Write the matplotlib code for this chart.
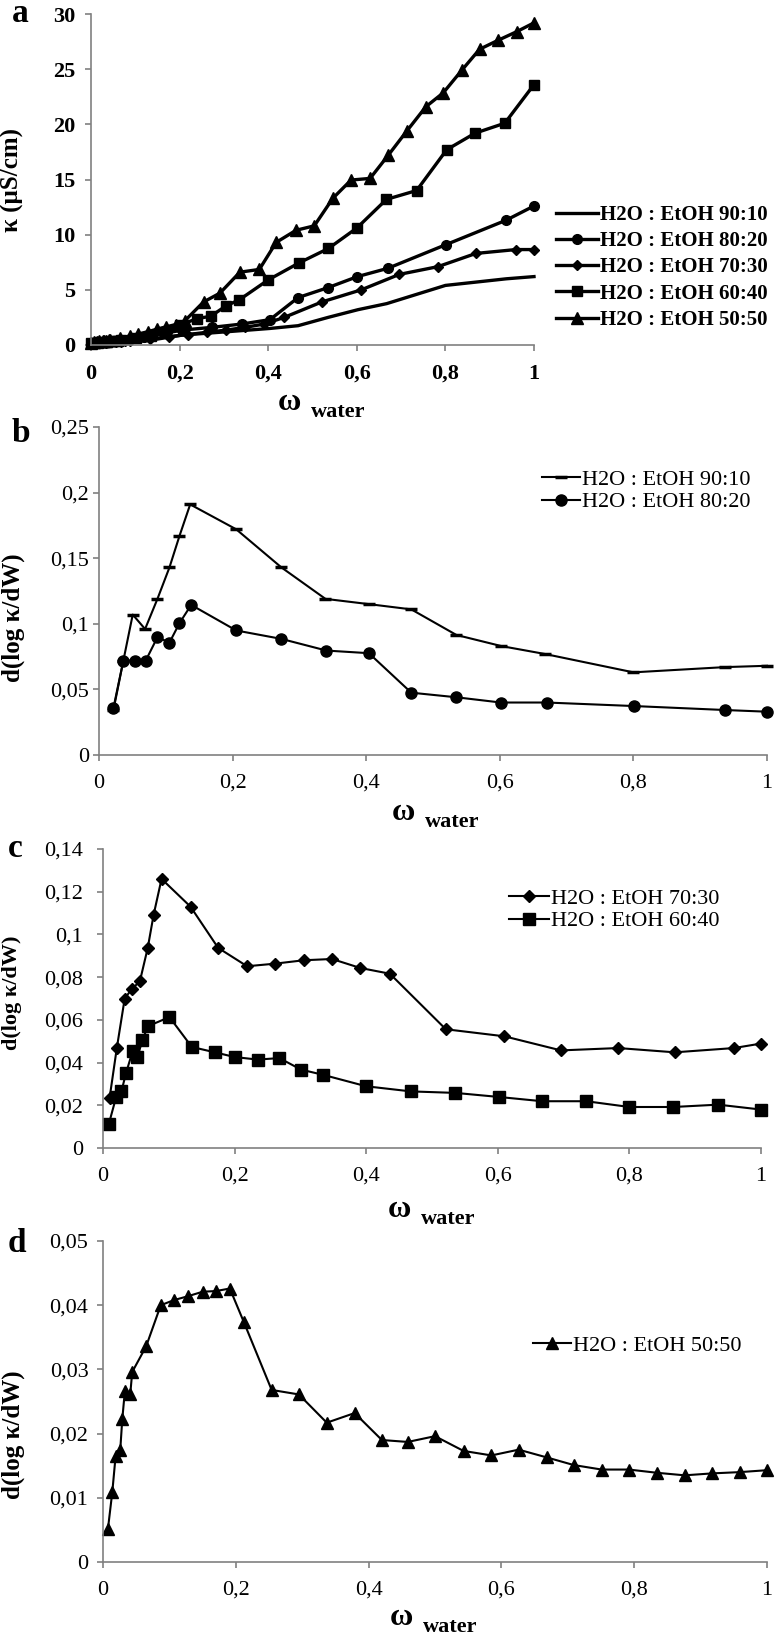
import matplotlib
matplotlib.use("Agg")
import matplotlib.pyplot as plt
from matplotlib.ticker import FuncFormatter

# ---- data ----
# panel a: conductivity vs water fraction
a_x_9010 = [0, 0.0215, 0.0365, 0.0505, 0.069, 0.0875, 0.1055, 0.1205, 0.1365, 0.2055, 0.273,
            0.339, 0.404, 0.4675, 0.535, 0.6025, 0.6675, 0.8, 0.9375, 1.0]
a_y_9010 = [0.15, 0.18, 0.2, 0.22, 0.26, 0.3, 0.35, 0.4, 0.45, 0.9, 1.1,
            1.3, 1.5, 1.75, 2.5, 3.2, 3.75, 5.4, 6.0, 6.2]
a_x_8020 = [0, 0.0215, 0.0365, 0.054, 0.07, 0.0875, 0.1055, 0.1205, 0.138, 0.2055, 0.273,
            0.3405, 0.404, 0.4675, 0.535, 0.6015, 0.67, 0.8015, 0.9365, 1.0]
a_y_8020 = [0.2, 0.25, 0.3, 0.35, 0.42, 0.5, 0.6, 0.7, 0.85, 1.35, 1.6,
            1.9, 2.3, 4.3, 5.2, 6.2, 6.95, 9.1, 11.3, 12.6]
a_x_7030 = [0, 0.01, 0.021, 0.033, 0.044, 0.056, 0.068, 0.077, 0.089, 0.133, 0.175, 0.219,
            0.261, 0.305, 0.348, 0.391, 0.436, 0.521, 0.61, 0.696, 0.783, 0.869, 0.959, 1.0]
a_y_7030 = [0.15, 0.17, 0.2, 0.22, 0.25, 0.28, 0.3, 0.33, 0.37, 0.55, 0.75, 0.95,
            1.15, 1.35, 1.6, 1.9, 2.5, 3.9, 5.0, 6.4, 7.1, 8.3, 8.65, 8.65]
a_x_6040 = [0, 0.009, 0.02, 0.028, 0.035, 0.045, 0.052, 0.06, 0.068, 0.101, 0.135, 0.17, 0.2,
            0.24, 0.27, 0.305, 0.335, 0.40, 0.47, 0.536, 0.60, 0.667, 0.735, 0.803, 0.867, 0.934, 1.0]
a_y_6040 = [0.2, 0.22, 0.25, 0.28, 0.3, 0.33, 0.36, 0.4, 0.44, 0.6, 0.85, 1.15, 1.8,
            2.4, 2.6, 3.55, 4.1, 5.9, 7.45, 8.75, 10.6, 13.2, 14.0, 17.7, 19.2, 20.1, 23.6]
a_x_5050 = [0, 0.0075, 0.014, 0.019, 0.026, 0.029, 0.033, 0.041, 0.044, 0.065, 0.087, 0.107,
            0.128, 0.15, 0.17, 0.191, 0.212, 0.254, 0.291, 0.336, 0.380, 0.418, 0.463, 0.504,
            0.546, 0.587, 0.63, 0.671, 0.713, 0.756, 0.795, 0.837, 0.877, 0.918, 0.961, 1.0]
a_y_5050 = [0.2, 0.25, 0.3, 0.33, 0.36, 0.38, 0.4, 0.45, 0.48, 0.6, 0.8, 1.0,
            1.2, 1.45, 1.65, 1.85, 2.2, 3.9, 4.7, 6.6, 6.85, 9.3, 10.4, 10.8,
            13.3, 14.95, 15.1, 17.2, 19.4, 21.6, 22.85, 24.9, 26.8, 27.6, 28.4, 29.2]

# panel b: d(log k)/dW, 90:10 and 80:20
b_x_9010 = [0.0215, 0.0365, 0.0505, 0.069, 0.0875, 0.1055, 0.1205, 0.1365, 0.2055, 0.273,
            0.339, 0.404, 0.4675, 0.535, 0.6025, 0.6675, 0.8, 0.9375, 1.0]
b_y_9010 = [0.034, 0.072, 0.107, 0.096, 0.119, 0.143, 0.167, 0.191, 0.172, 0.143,
            0.119, 0.115, 0.111, 0.0915, 0.083, 0.077, 0.063, 0.067, 0.068]
b_x_8020 = [0.0215, 0.0365, 0.054, 0.07, 0.0875, 0.1055, 0.1205, 0.138, 0.2055, 0.273,
            0.3405, 0.404, 0.4675, 0.535, 0.6015, 0.67, 0.8015, 0.9365, 1.0]
b_y_8020 = [0.0356, 0.072, 0.072, 0.072, 0.0898, 0.0857, 0.1005, 0.1144, 0.0949, 0.0885,
            0.0796, 0.0776, 0.0475, 0.044, 0.040, 0.040, 0.0373, 0.0343, 0.033]

# panel c: 70:30 and 60:40
c_x_7030 = [0.01, 0.021, 0.033, 0.044, 0.056, 0.068, 0.077, 0.089, 0.133, 0.175, 0.219, 0.261,
            0.305, 0.348, 0.391, 0.436, 0.521, 0.61, 0.696, 0.783, 0.869, 0.959, 1.0]
c_y_7030 = [0.0234, 0.0468, 0.070, 0.0745, 0.078, 0.0937, 0.1093, 0.126, 0.113, 0.0937, 0.0851, 0.0863,
            0.0879, 0.0885, 0.0843, 0.0816, 0.0556, 0.0523, 0.0457, 0.0468, 0.0448, 0.0468, 0.0489]
c_x_6040 = [0.009, 0.02, 0.028, 0.035, 0.045, 0.052, 0.06, 0.068, 0.101, 0.135, 0.17, 0.2, 0.235,
            0.268, 0.301, 0.334, 0.4, 0.468, 0.5355, 0.6015, 0.6675, 0.7345, 0.80, 0.8665, 0.935, 1.0]
c_y_6040 = [0.0114, 0.0239, 0.0265, 0.0351, 0.0453, 0.0426, 0.0504, 0.057, 0.0613, 0.0473, 0.0448,
            0.0426, 0.0414, 0.0421, 0.0367, 0.0343, 0.0289, 0.0265, 0.0258, 0.0239, 0.0219,
            0.0219, 0.0192, 0.0192, 0.0203, 0.018]

# panel d: 50:50
d_x_5050 = [0.0075, 0.014, 0.019, 0.026, 0.029, 0.033, 0.041, 0.044, 0.065, 0.087, 0.107, 0.128,
            0.15, 0.17, 0.191, 0.212, 0.254, 0.295, 0.337, 0.379, 0.42, 0.459, 0.50, 0.543,
            0.585, 0.626, 0.668, 0.709, 0.751, 0.792, 0.834, 0.876, 0.917, 0.959, 1.0]
d_y_5050 = [0.0052, 0.0109, 0.0165, 0.0175, 0.0222, 0.0267, 0.0261, 0.0296, 0.0336, 0.040, 0.0408,
            0.0414, 0.0421, 0.0422, 0.0426, 0.0374, 0.0268, 0.0261, 0.0217, 0.0232, 0.019,
            0.0187, 0.0196, 0.0173, 0.0166, 0.0175, 0.0163, 0.0151, 0.0144, 0.0144, 0.0139,
            0.0135, 0.0138, 0.014, 0.0143]

labels = ['H2O : EtOH 90:10', 'H2O : EtOH 80:20', 'H2O : EtOH 70:30',
          'H2O : EtOH 60:40', 'H2O : EtOH 50:50']

W, H = 779, 1637
SERIF = 'Liberation Serif'
plt.rcParams['font.family'] = SERIF
GREY = '#808080'

fig = plt.figure(figsize=(W / 100, H / 100), dpi=100)


def box(l, t, r, b):
    return [l / W, 1 - b / H, (r - l) / W, (b - t) / H]


def pt(x, y):
    return x / W, 1 - y / H


def comma(v, pos):
    return f'{v:g}'.replace('.', ',')


def style(ax, ymax, ystep, ypad, weight='normal'):
    ax.set_xlim(0, 1)
    ax.set_ylim(0, ymax)
    ax.set_xticks([0, 0.2, 0.4, 0.6, 0.8, 1.0])
    ax.set_yticks([i * ystep for i in range(int(round(ymax / ystep)) + 1)])
    ax.xaxis.set_major_formatter(FuncFormatter(comma))
    ax.yaxis.set_major_formatter(FuncFormatter(comma))
    for s in ['top', 'right']:
        ax.spines[s].set_visible(False)
    for s in ['left', 'bottom']:
        ax.spines[s].set_color(GREY)
        ax.spines[s].set_linewidth(1.2)
    ax.tick_params(axis='both', direction='out', length=4.5, width=1.2, color=GREY,
                   labelsize=16)
    ax.tick_params(axis='x', pad=9)
    ax.tick_params(axis='y', pad=ypad)
    for t in ax.get_xticklabels() + ax.get_yticklabels():
        t.set_fontweight(weight)


def ylab(ax, text, size, x, y):
    ax.set_ylabel(text, fontsize=size, fontweight='bold')
    ax.yaxis.set_label_coords(*ax.transAxes.inverted().transform(fig.transFigure.transform(pt(x, y))))


def xlab(x, base):
    fig.text(*pt(x, base), 'ω', fontsize=23, fontweight='bold', ha='left', va='baseline')
    fig.text(*pt(x + 33, base + 7), 'water', fontsize=16, fontweight='bold',
             ha='left', va='baseline')


def leg(ax, x, top, size, hl, ls, weight='normal'):
    ax.legend(loc='upper left', bbox_to_anchor=pt(x, top), bbox_transform=fig.transFigure,
              frameon=False, borderpad=0, borderaxespad=0, handlelength=hl,
              handletextpad=0.1, labelspacing=ls, numpoints=1,
              prop={'size': size, 'weight': weight})


# ---- panel a ----
ax = fig.add_axes(box(91, 14, 534, 345))
lw = 2.4
ax.plot(a_x_9010, a_y_9010, color='k', lw=lw, label=labels[0], clip_on=False)
ax.plot(a_x_8020, a_y_8020, color='k', lw=lw, marker='o', ms=7, label=labels[1], clip_on=False)
ax.plot(a_x_7030, a_y_7030, color='k', lw=lw, marker='D', ms=5.5, label=labels[2], clip_on=False)
ax.plot(a_x_6040, a_y_6040, color='k', lw=lw, marker='s', ms=7, label=labels[3], clip_on=False)
ax.plot(a_x_5050, a_y_5050, color='k', lw=lw, marker='^', ms=8, label=labels[4], clip_on=False)
style(ax, 30, 5, 7, 'bold')
ylab(ax, 'κ (μS/cm)', 18, 24, 180)
leg(ax, 556, 205, 15, 2.0, 0.3, 'bold')
fig.text(*pt(12, 22), 'a', fontsize=24, fontweight='bold', va='baseline')
xlab(278, 410)

# ---- panel b ----
ax = fig.add_axes(box(99, 427, 767, 755))
ax.plot(b_x_9010, b_y_9010, color='k', lw=1.5, marker='_', ms=9, mew=2.5,
        label=labels[0], clip_on=False)
ax.plot(b_x_8020, b_y_8020, color='k', lw=1.5, marker='o', ms=8, label=labels[1], clip_on=False)
style(ax, 0.25, 0.05, 2.5)
ylab(ax, 'd(log κ/dW)', 18, 25, 618)
leg(ax, 542, 469, 16, 1.7, 0.1)
fig.text(*pt(12, 442), 'b', fontsize=24, fontweight='bold', va='baseline')
xlab(392, 820)

# ---- panel c ----
ax = fig.add_axes(box(103, 849, 761, 1148))
ax.plot(c_x_7030, c_y_7030, color='k', lw=1.5, marker='D', ms=6.5, label=labels[2], clip_on=False)
ax.plot(c_x_6040, c_y_6040, color='k', lw=1.5, marker='s', ms=8.5, label=labels[3], clip_on=False)
style(ax, 0.14, 0.02, 10)
ylab(ax, 'd(log κ/dW)', 16, 22, 993)
leg(ax, 509, 888, 16, 1.8, 0.1)
fig.text(*pt(8, 857), 'c', fontsize=24, fontweight='bold', va='baseline')
xlab(388, 1217)

# ---- panel d ----
ax = fig.add_axes(box(103, 1241, 767, 1562))
ax.plot(d_x_5050, d_y_5050, color='k', lw=1.5, marker='^', ms=8.5, label=labels[4], clip_on=False)
style(ax, 0.05, 0.01, 6)
ylab(ax, 'd(log κ/dW)', 18, 25, 1435)
leg(ax, 533, 1335, 16, 1.7, 0.1)
fig.text(*pt(8, 1252), 'd', fontsize=24, fontweight='bold', va='baseline')
xlab(390, 1625)

fig.savefig('out.png', dpi=100)
